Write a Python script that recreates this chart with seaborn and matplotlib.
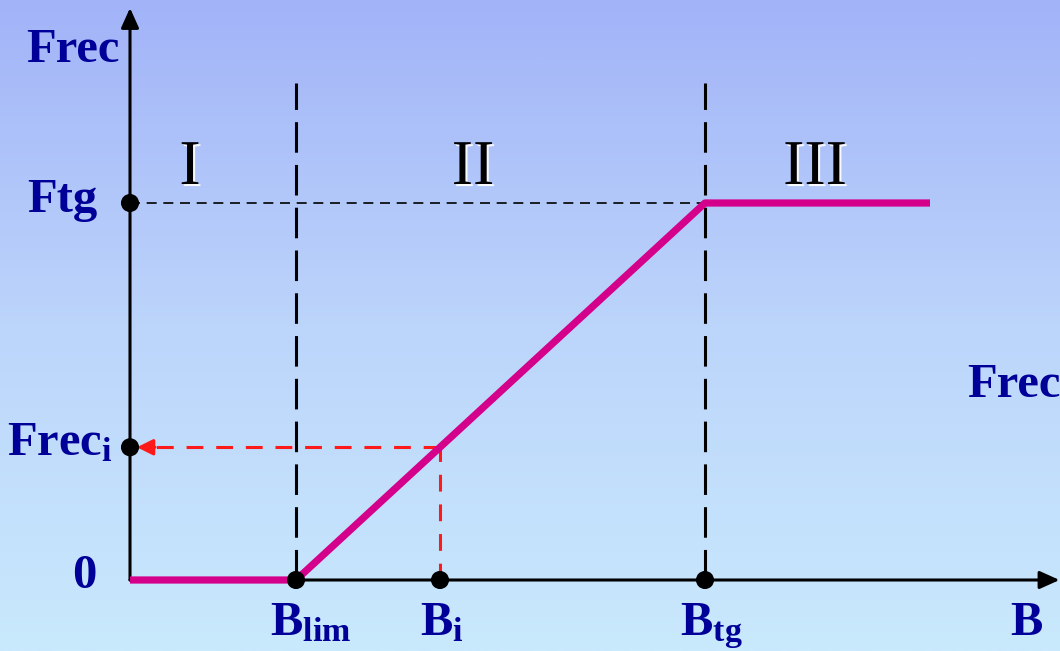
import numpy as np
import pandas as pd
import seaborn as sns
import matplotlib.pyplot as plt
import matplotlib.patheffects as pe
from matplotlib.colors import LinearSegmentedColormap

# regla de control: Frec en funcion de B (unidades arbitrarias)
b_puntos = [0.0, 1.66, 5.75, 8.0]
frec_puntos = [0.0, 0.0, 3.77, 3.77]
b_lim = 1.66
b_i = 3.10
b_tg = 5.75
ftg = 3.77
frec_i = float(np.interp(b_i, b_puntos, frec_puntos))

zonas = ["I", "II", "III"]
etiquetas_x = ["B$_{\\mathrm{lim}}$", "B$_{\\mathrm{i}}$", "B$_{\\mathrm{tg}}$", "B"]
etiquetas_y = ["0", "Frec$_{\\mathrm{i}}$", "Ftg", "Frec"]

sns.set_theme(style="white")
plt.rcParams["font.family"] = ["Liberation Serif", "DejaVu Serif"]
plt.rcParams["mathtext.fontset"] = "custom"
plt.rcParams["mathtext.rm"] = "Liberation Serif:bold"
plt.rcParams["mathtext.it"] = "Liberation Serif:bold"
plt.rcParams["mathtext.bf"] = "Liberation Serif:bold"

azul = "#000099"
magenta = "#d4008c"
rojo = "#ff1a1a"

fig = plt.figure(figsize=(10.6, 6.51), dpi=100)
ax = fig.add_axes([0, 0, 1, 1])
xmin, xmax, ymin, ymax = -1.30, 9.30, -0.71, 5.80
ax.set_xlim(xmin, xmax)
ax.set_ylim(ymin, ymax)
ax.axis("off")

# fondo degradado
fondo = LinearSegmentedColormap.from_list("fondo", ["#c9e9fd", "#bcd5fb", "#a2b3f8"])
grad = np.linspace(0, 1, 256).reshape(-1, 1)
ax.imshow(grad, extent=[xmin, xmax, ymin, ymax], origin="lower", aspect="auto",
          cmap=fondo, zorder=0)

# ejes con flecha
flecha = "-|>,head_length=1.0,head_width=0.45"
ax.annotate("", xy=(xmax - 0.005, 0), xytext=(0, 0),
            arrowprops=dict(arrowstyle=flecha, color="black", lw=2.2,
                            shrinkA=0, shrinkB=0), zorder=2)
ax.annotate("", xy=(0, 5.72), xytext=(0, 0),
            arrowprops=dict(arrowstyle=flecha, color="black", lw=2.2,
                            shrinkA=0, shrinkB=0), zorder=2)

# limites de zonas
for b in [b_lim, b_tg]:
    ax.plot([b, b], [0, 4.97], color="black", lw=2.2, dashes=(10, 4), zorder=2)
ax.plot([0, b_tg], [ftg, ftg], color="black", lw=1.2, dashes=(6, 4), zorder=2)

# proyeccion de B_i
ax.plot([b_i, b_i], [0, frec_i], color=rojo, lw=2.2, dashes=(5.5, 4.2), zorder=3)
ax.plot([b_i, 0.2], [frec_i, frec_i], color=rojo, lw=2.2, dashes=(5.5, 4.2), zorder=3)
ax.annotate("", xy=(0.07, frec_i), xytext=(0.25, frec_i),
            arrowprops=dict(arrowstyle="-|>,head_length=0.8,head_width=0.4",
                            color=rojo, lw=2.2, shrinkA=0, shrinkB=0), zorder=3)

# regla de control
df = pd.DataFrame({"B": b_puntos, "Frec": frec_puntos})
sns.lineplot(data=df, x="B", y="Frec", sort=False, color=magenta, lw=5.2,
             ax=ax, zorder=4, solid_capstyle="butt")

# puntos de referencia
puntos = pd.DataFrame({"B": [0, 0, b_lim, b_i, b_tg], "Frec": [ftg, frec_i, 0, 0, 0]})
sns.scatterplot(data=puntos, x="B", y="Frec", color="black", s=170,
                edgecolor="none", ax=ax, zorder=5)
ax.set_xlim(xmin, xmax)
ax.set_ylim(ymin, ymax)
ax.axis("off")

# zonas
sombra = [pe.withSimplePatchShadow(offset=(1.5, -1.5), shadow_rgbFace="white", alpha=0.9)]
for z, xz in zip(zonas, [0.60, 3.43, 6.85]):
    ax.text(xz, 3.96, z, ha="center", va="baseline", fontsize=46, color="black",
            path_effects=sombra, zorder=6)

# etiquetas
for lab, xl in zip(etiquetas_x, [1.40, 2.90, 5.50, 8.80]):
    ax.text(xl, -0.55, lab, ha="left", va="baseline", fontsize=35,
            fontweight="bold", color=azul, zorder=6)
for lab, xl, yl in zip(etiquetas_y, [-0.33, -0.17, -0.33, -0.10], [-0.08, 1.25, 3.68, 5.18]):
    ax.text(xl, yl, lab, ha="right", va="baseline", fontsize=35,
            fontweight="bold", color=azul, zorder=6)
ax.text(8.37, 1.83, "Frec", ha="left", va="baseline", fontsize=35,
        fontweight="bold", color=azul, zorder=6)

fig.savefig("out.png", dpi=100)
